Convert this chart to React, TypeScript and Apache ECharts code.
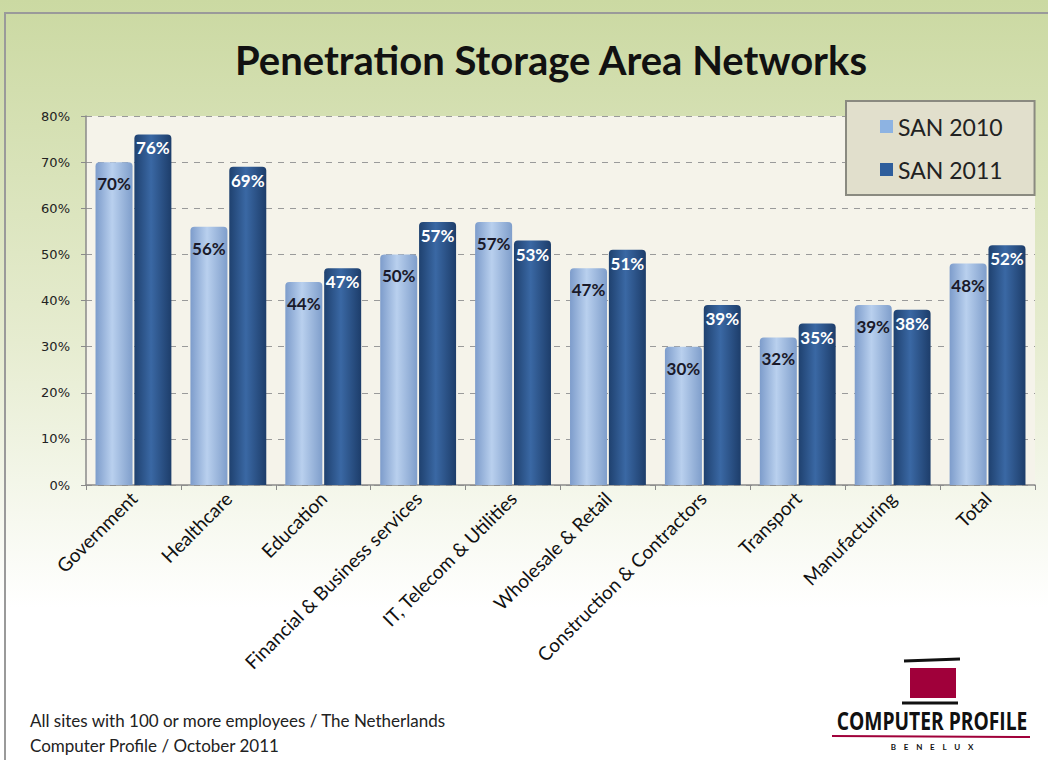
import React, { useEffect, useRef } from "react";
import * as echarts from "echarts";

const categories = [
  "Government",
  "Healthcare",
  "Education",
  "Financial & Business services",
  "IT, Telecom & Utilities",
  "Wholesale & Retail",
  "Construction & Contractors",
  "Transport",
  "Manufacturing",
  "Total",
];
const san2010 = [70, 56, 44, 50, 57, 47, 30, 32, 39, 48];
const san2011 = [76, 69, 47, 57, 53, 51, 39, 35, 38, 52];
const seriesNames = ["SAN 2010", "SAN 2011"];
const titleText = "Penetration Storage Area Networks";
const footLines = [
  "All sites with 100 or more employees / The Netherlands",
  "Computer Profile / October 2011",
];

const FONT = "Lato, 'Open Sans', sans-serif";

export default function App() {
  const ref = useRef<HTMLDivElement>(null);
  useEffect(() => {
    if (!ref.current) return;
    const chart = echarts.init(ref.current, null, { renderer: "svg" });
    const lightGrad = new echarts.graphic.LinearGradient(0, 0, 1, 0, [
      { offset: 0, color: "#7d9ccb" },
      { offset: 0.45, color: "#b9d0ee" },
      { offset: 1, color: "#7f9ecb" },
    ]);
    const darkGrad = new echarts.graphic.LinearGradient(0, 0, 1, 0, [
      { offset: 0, color: "#1f416f" },
      { offset: 0.45, color: "#3a68a4" },
      { offset: 1, color: "#1d3d6a" },
    ]);
    chart.setOption({
      animation: false,
      backgroundColor: new echarts.graphic.LinearGradient(0, 0, 0, 1, [
        { offset: 0, color: "#cbd9a2" },
        { offset: 0.45, color: "#e6ecd0" },
        { offset: 0.8, color: "#ffffff" },
        { offset: 1, color: "#ffffff" },
      ]),
      title: {
        text: titleText,
        left: 230,
        top: 35,
        textStyle: { fontFamily: FONT, fontSize: 40, fontWeight: "bold", color: "#111" },
      },
      legend: {
        orient: "vertical",
        left: 846,
        top: 101,
        width: 160,
        padding: [14, 32, 14, 34],
        itemGap: 20,
        itemWidth: 13,
        itemHeight: 13,
        backgroundColor: "#e1dfcc",
        borderColor: "#8a8a80",
        borderWidth: 2,
        textStyle: { fontFamily: FONT, fontSize: 23, color: "#222" },
        data: [
          { name: seriesNames[0], icon: "rect", itemStyle: { color: "#8db3e2" } },
          { name: seriesNames[1], icon: "rect", itemStyle: { color: "#2e5e9c" } },
        ],
      },
      grid: {
        left: 86,
        right: 13,
        top: 116,
        bottom: 275,
        show: true,
        backgroundColor: "#f5f3ea",
        borderWidth: 0,
      },
      xAxis: {
        type: "category",
        data: categories,
        axisLine: { lineStyle: { color: "#8a8a8a", width: 1.5 } },
        axisTick: { show: true, length: 5, lineStyle: { color: "#8a8a8a" } },
        axisLabel: {
          rotate: 45,
          interval: 0,
          fontFamily: FONT,
          fontSize: 19,
          color: "#111",
          margin: 10,
        },
      },
      yAxis: {
        type: "value",
        min: 0,
        max: 80,
        interval: 10,
        axisLine: { show: true, lineStyle: { color: "#8a8a8a", width: 1.5 } },
        axisTick: { show: true, length: 5, lineStyle: { color: "#8a8a8a" } },
        axisLabel: {
          formatter: "{value}%",
          fontFamily: "'DejaVu Sans', sans-serif",
          fontSize: 13,
          color: "#222",
          margin: 16,
        },
        splitLine: { lineStyle: { color: "#9a9a9a", type: [6, 6], width: 1.2 } },
      },
      series: [
        {
          name: seriesNames[0],
          type: "bar",
          data: san2010,
          barWidth: 37,
          barGap: "5%",
          itemStyle: { color: lightGrad, borderRadius: [4, 4, 0, 0] },
          label: {
            show: true,
            position: "insideTop",
            distance: 13,
            formatter: "{c}%",
            fontFamily: FONT,
            fontSize: 17,
            fontWeight: "bold",
            color: "#1a1a2a",
          },
        },
        {
          name: seriesNames[1],
          type: "bar",
          data: san2011,
          barWidth: 37,
          itemStyle: { color: darkGrad, borderRadius: [4, 4, 0, 0] },
          label: {
            show: true,
            position: "insideTop",
            distance: 5,
            formatter: "{c}%",
            fontFamily: FONT,
            fontSize: 17,
            fontWeight: "bold",
            color: "#ffffff",
          },
        },
      ],
      graphic: [
        {
          type: "rect",
          shape: { x: 5, y: 13, width: 1050, height: 760 },
          style: { fill: "none", stroke: "#9a9a9a", lineWidth: 2 },
          silent: true,
        },
        {
          type: "text",
          left: 30,
          top: 708,
          style: {
            text: footLines.join("\n"),
            fontFamily: FONT,
            fontSize: 17,
            lineHeight: 25,
            fill: "#222",
          },
        },
        {
          type: "line",
          shape: { x1: 904, y1: 661, x2: 960, y2: 659 },
          style: { stroke: "#111", lineWidth: 3 },
        },
        {
          type: "rect",
          shape: { x: 910, y: 668, width: 46, height: 30 },
          style: { fill: "#a0003a" },
        },
        {
          type: "line",
          shape: { x1: 902, y1: 703, x2: 958, y2: 703 },
          style: { stroke: "#111", lineWidth: 3 },
        },
        {
          type: "text",
          x: 932,
          y: 720,
          scaleX: 0.77,
          style: {
            text: "COMPUTER PROFILE",
            fontFamily: "'Open Sans', sans-serif",
            fontSize: 25,
            fontWeight: "bold",
            fill: "#111",
            align: "center",
            verticalAlign: "middle",
          },
        },
        {
          type: "line",
          shape: { x1: 832, y1: 736, x2: 1030, y2: 737 },
          style: { stroke: "#a0003a", lineWidth: 2 },
        },
        {
          type: "text",
          x: 932,
          y: 747,
          style: {
            text: "B    E    N    E    L    U    X",
            fontFamily: FONT,
            fontSize: 8,
            fontWeight: "bold",
            fill: "#111",
            align: "center",
            verticalAlign: "middle",
          },
        },
      ],
    });
    return () => chart.dispose();
  }, []);
  return (
    <div
      ref={ref}
      style={{ position: "fixed", left: 0, top: 0, width: 1048, height: 760 }}
    />
  );
}
